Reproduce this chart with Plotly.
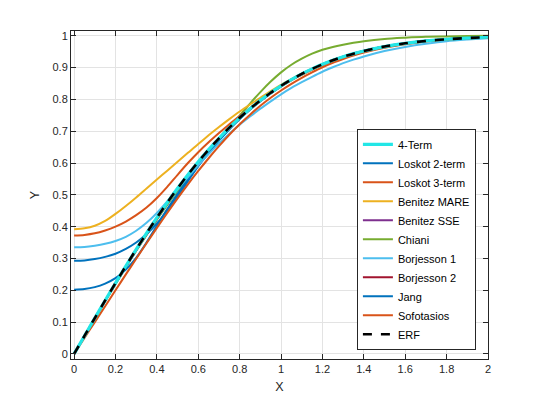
import plotly.graph_objects as go

x_vals = [0.0, 0.05, 0.1, 0.15, 0.2, 0.25, 0.3, 0.35, 0.4, 0.45, 0.5,
          0.55, 0.6, 0.65, 0.7, 0.75, 0.8, 0.85, 0.9, 0.95, 1.0,
          1.05, 1.1, 1.15, 1.2, 1.25, 1.3, 1.35, 1.4,
          1.5, 1.6, 1.7, 1.8, 1.9, 2.0]

erf_ref = [0, 0.0564, 0.1125, 0.168, 0.2227, 0.2763, 0.3286, 0.3794, 0.4284, 0.4755, 0.5205,
           0.5633, 0.6039, 0.642, 0.6778, 0.7112, 0.7421, 0.7707, 0.7969, 0.8209, 0.8427,
           0.8624, 0.8802, 0.8961, 0.9103, 0.9229, 0.934, 0.9438, 0.9523,
           0.9661, 0.9763, 0.9838, 0.9891, 0.9928, 0.9953]
four_term = [0, 0.0564, 0.1125, 0.168, 0.2227, 0.2763, 0.3286, 0.3794, 0.4284, 0.4755, 0.5205,
             0.5633, 0.6039, 0.642, 0.6778, 0.7112, 0.7421, 0.7707, 0.7969, 0.8209, 0.8427,
             0.8624, 0.8802, 0.8961, 0.9103, 0.9229, 0.934, 0.9438, 0.9523,
             0.9661, 0.9763, 0.9838, 0.9891, 0.9928, 0.9953]
loskot2 = [0.293, 0.294, 0.298, 0.305, 0.315, 0.33, 0.35, 0.377, 0.41, 0.45, 0.495,
           0.543, 0.59, 0.632, 0.671, 0.707, 0.739, 0.769, 0.796, 0.82, 0.842,
           0.862, 0.88, 0.896, 0.91, 0.923, 0.934, 0.944, 0.952,
           0.966, 0.976, 0.984, 0.989, 0.993, 0.995]
loskot3 = [0.372, 0.374, 0.379, 0.388, 0.40, 0.416, 0.436, 0.46, 0.49, 0.525, 0.563,
           0.60, 0.634, 0.665, 0.694, 0.722, 0.748, 0.773, 0.797, 0.82, 0.841,
           0.86, 0.877, 0.893, 0.907, 0.92, 0.931, 0.941, 0.95,
           0.964, 0.975, 0.983, 0.988, 0.992, 0.995]
benitez_mare = [0.392, 0.395, 0.403, 0.418, 0.44, 0.465, 0.492, 0.52, 0.548, 0.576, 0.604,
                0.632, 0.66, 0.687, 0.713, 0.738, 0.762, 0.784, 0.805, 0.826, 0.846,
                0.864, 0.881, 0.897, 0.911, 0.923, 0.934, 0.944, 0.952,
                0.966, 0.976, 0.984, 0.989, 0.993, 0.995]
benitez_sse = [0, 0.0562, 0.1121, 0.1675, 0.222, 0.2755, 0.3278, 0.3786, 0.4276, 0.4747, 0.5198,
               0.5626, 0.6033, 0.6415, 0.6774, 0.7109, 0.7419, 0.7706, 0.7968, 0.8208, 0.8426,
               0.8623, 0.8801, 0.896, 0.9102, 0.9229, 0.934, 0.9438, 0.9523,
               0.9661, 0.9763, 0.9838, 0.9891, 0.9928, 0.9953]
chiani = [0, 0.056, 0.111, 0.166, 0.22, 0.273, 0.325, 0.375, 0.423, 0.469, 0.513,
          0.555, 0.596, 0.636, 0.674, 0.711, 0.749, 0.787, 0.823, 0.856, 0.885,
          0.909, 0.928, 0.944, 0.956, 0.965, 0.972, 0.978, 0.983,
          0.99, 0.994, 0.997, 0.998, 0.999, 1.0]
borjesson1 = [0.335, 0.336, 0.34, 0.346, 0.355, 0.368, 0.387, 0.412, 0.443, 0.479, 0.518,
              0.556, 0.593, 0.628, 0.661, 0.692, 0.72, 0.746, 0.771, 0.794, 0.816,
              0.836, 0.854, 0.871, 0.887, 0.901, 0.914, 0.925, 0.935,
              0.952, 0.965, 0.975, 0.983, 0.988, 0.992]
borjesson2 = [0, 0.0555, 0.111, 0.1655, 0.2195, 0.2725, 0.324, 0.374, 0.4225, 0.4695, 0.5145,
              0.5575, 0.5985, 0.637, 0.6735, 0.7075, 0.739, 0.768, 0.7945, 0.819, 0.841,
              0.861, 0.879, 0.895, 0.9095, 0.922, 0.9335, 0.943, 0.952,
              0.966, 0.976, 0.984, 0.989, 0.993, 0.995]
jang = [0.202, 0.204, 0.21, 0.221, 0.238, 0.265, 0.302, 0.35, 0.403, 0.455, 0.503,
        0.549, 0.592, 0.633, 0.671, 0.706, 0.738, 0.768, 0.795, 0.819, 0.841,
        0.862, 0.88, 0.896, 0.91, 0.923, 0.934, 0.944, 0.952,
        0.966, 0.976, 0.984, 0.989, 0.993, 0.995]
sofotasios = [0, 0.05, 0.10, 0.15, 0.20, 0.25, 0.299, 0.348, 0.396, 0.443, 0.489,
              0.533, 0.575, 0.615, 0.653, 0.689, 0.722, 0.752, 0.78, 0.805, 0.828,
              0.849, 0.868, 0.885, 0.901, 0.915, 0.927, 0.938, 0.947,
              0.962, 0.973, 0.982, 0.988, 0.992, 0.994]

series = [
    # name, values, color, width, dash, legend rank (drawing order differs)
    ("Borjesson 2", borjesson2, "#A2142F", 2, "solid", 8),
    ("Benitez SSE", benitez_sse, "#7E2F8E", 2, "solid", 5),
    ("Chiani", chiani, "#77AC30", 2, "solid", 6),
    ("Loskot 2-term", loskot2, "#0072BD", 2, "solid", 2),
    ("Jang", jang, "#0072BD", 2, "solid", 9),
    ("Borjesson 1", borjesson1, "#4DBEEE", 2, "solid", 7),
    ("Loskot 3-term", loskot3, "#D95319", 2, "solid", 3),
    ("Benitez MARE", benitez_mare, "#EDB120", 2, "solid", 4),
    ("Sofotasios", sofotasios, "#D95319", 2, "solid", 10),
    ("4-Term", four_term, "#22E6E6", 3.2, "solid", 1),
    ("ERF", erf_ref, "#000000", 2.6, "dash", 11),
]

fig = go.Figure()
for name, vals, color, width, dash, rank in series:
    fig.add_trace(go.Scatter(
        x=x_vals, y=vals, mode="lines", name=name,
        line=dict(color=color, width=width, dash=dash, shape="spline", smoothing=0.8),
        legendrank=rank,
    ))

font_family = "Liberation Sans, Arial, Helvetica, sans-serif"
axis_common = dict(
    showgrid=True, gridcolor="#E3E3E3", gridwidth=1,
    showline=True, linecolor="#262626", linewidth=1, mirror="ticks",
    ticks="inside", ticklen=5, tickcolor="#262626", tickwidth=1,
    zeroline=False, automargin=False,
    tickfont=dict(family=font_family, size=11, color="#262626"),
)

# page body has an 8px default margin, so the figure is 8px smaller
fig.update_layout(
    width=532, height=397,
    margin=dict(l=63, r=52, t=23, b=46),
    paper_bgcolor="white", plot_bgcolor="white",
    font=dict(family=font_family, color="#262626"),
    xaxis=dict(range=[-0.015, 2.0], tickvals=[0, 0.2, 0.4, 0.6, 0.8, 1.0, 1.2, 1.4, 1.6, 1.8, 2.0],
               ticktext=["0", "0.2", "0.4", "0.6", "0.8", "1", "1.2", "1.4", "1.6", "1.8", "2"],
               title=dict(text="X", font=dict(size=12.5, family=font_family, color="#262626"), standoff=8),
               **axis_common),
    yaxis=dict(range=[-0.016, 1.015], tickvals=[0, 0.1, 0.2, 0.3, 0.4, 0.5, 0.6, 0.7, 0.8, 0.9, 1.0],
               ticktext=["0", "0.1", "0.2", "0.3", "0.4", "0.5", "0.6", "0.7", "0.8", "0.9", "1"],
               title=dict(text="Y", font=dict(size=12.5, family=font_family, color="#262626"), standoff=10),
               **axis_common),
    legend=dict(
        x=0.971, xanchor="right", y=0.028, yanchor="bottom",
        bgcolor="white", bordercolor="#262626", borderwidth=1,
        font=dict(family=font_family, size=11, color="#000000"),
        tracegroupgap=0, itemwidth=30,
    ),
    showlegend=True,
)

fig.write_html("out.html")
